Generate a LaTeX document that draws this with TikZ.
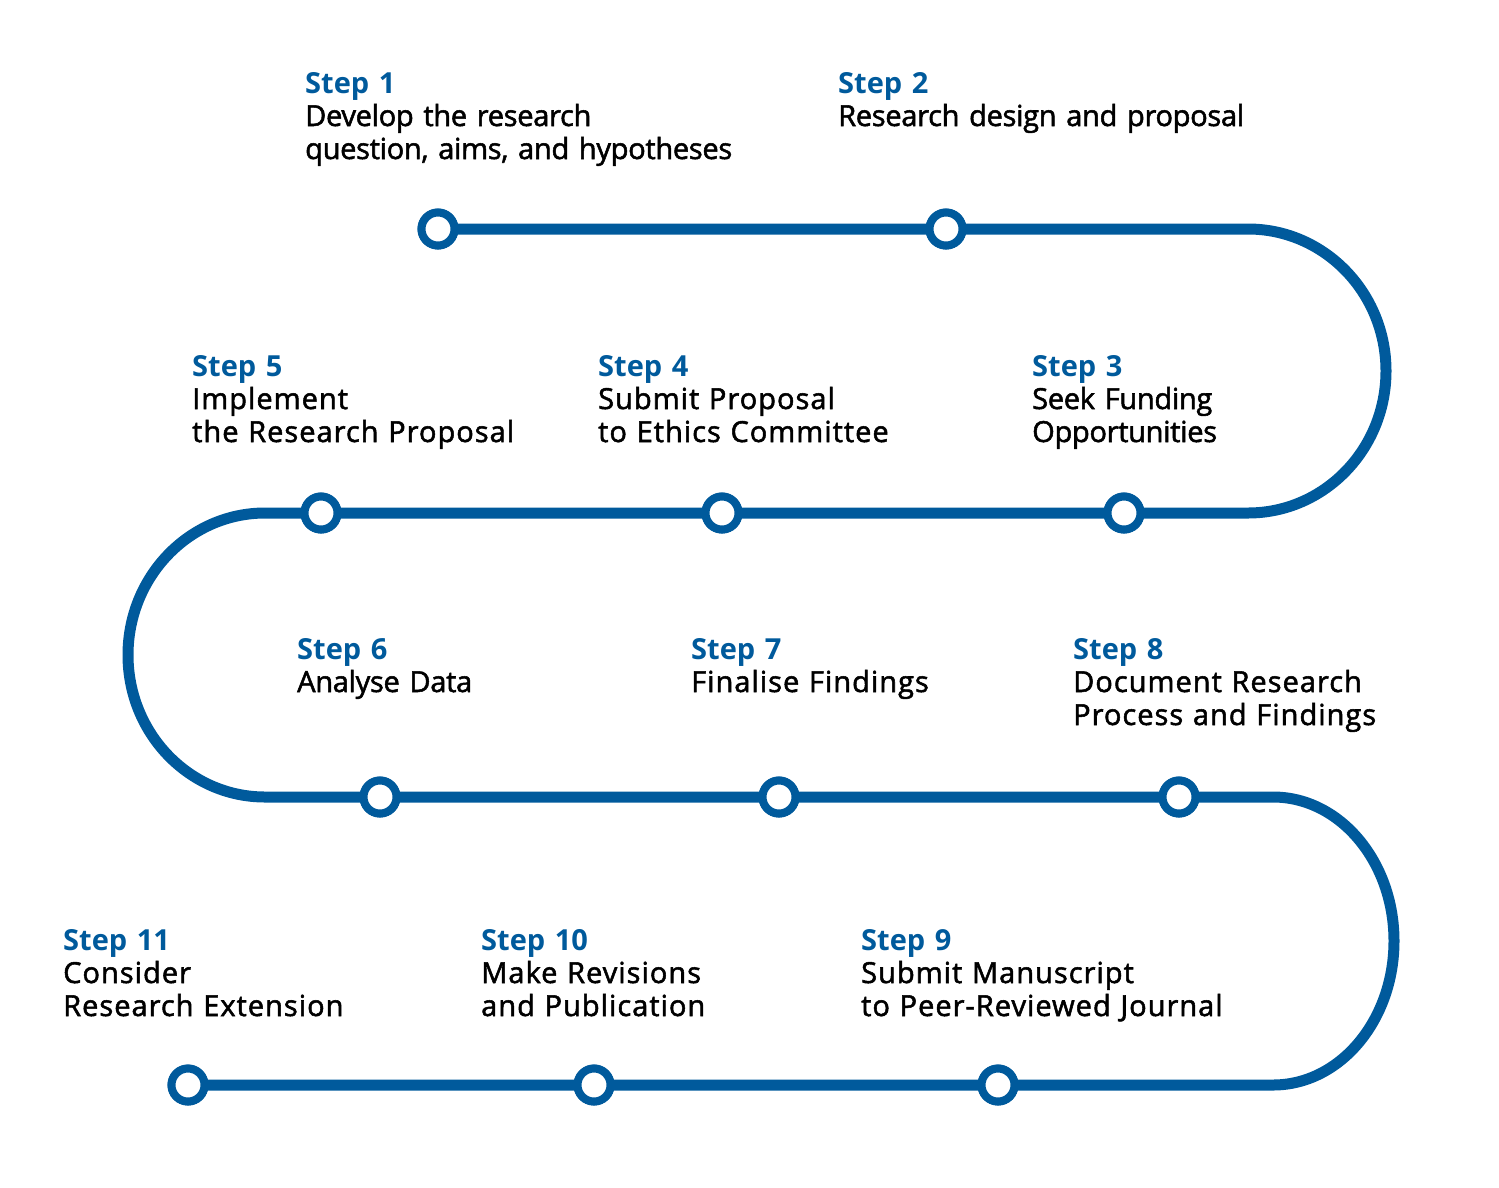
\documentclass[tikz,border=0pt]{standalone}
\usepackage{fontspec}
\setmainfont{Open Sans}
\newfontfamily\descfont{Open Sans}[FakeBold=1.8, LetterSpace=-1]
\newfontfamily\widedescfont{Open Sans}[FakeBold=1.8, LetterSpace=3.5]
\definecolor{trackblue}{HTML}{005A9C}
\tikzset{
  track/.style={draw=trackblue, line width=11pt},
  stop/.style={circle, draw=trackblue, fill=white, line width=8pt, minimum size=33pt, inner sep=0pt},
  steplabel/.style={anchor=base west, align=left, text width=460pt, inner sep=0pt, text=black,
    font=\fontsize{29}{33}\selectfont\descfont},
  widelabel/.style={steplabel, font=\fontsize{29}{33}\selectfont\widedescfont},
}
\newcommand{\stepname}[1]{{\normalfont\bfseries\color{trackblue}Step #1}}

\begin{document}
\begin{tikzpicture}[x=1pt, y=-1pt]
  \useasboundingbox (0,0) rectangle (1499,1187);

  % stops along the track
  \node[stop] (s1) at (438, 229) {};
  \node[stop] (s2) at (946, 229) {};
  \node[stop] (s3) at (1124, 513) {};
  \node[stop] (s4) at (722, 513) {};
  \node[stop] (s5) at (321, 513) {};
  \node[stop] (s6) at (380, 797) {};
  \node[stop] (s7) at (779, 797) {};
  \node[stop] (s8) at (1179, 797) {};
  \node[stop] (s9) at (998, 1085) {};
  \node[stop] (s10) at (594, 1085) {};
  \node[stop] (s11) at (188, 1085) {};

  % where the bends start
  \coordinate (t1) at (1248, 229);
  \coordinate (t2) at (265, 513);
  \coordinate (t3) at (1273, 797);

  \draw[track] (s1.center) -- (s2.center) -- (t1) arc (-90:90:138 and 142)
    -- (s3.center) -- (s4.center) -- (s5.center) -- (t2) arc (270:90:137 and 142)
    -- (s6.center) -- (s7.center) -- (s8.center) -- (t3) arc (-90:90:121 and 144)
    -- (s9.center) -- (s10.center) -- (s11.center);

  % redraw the stops on top of the track
  \foreach \s in {s1,s2,s3,s4,s5,s6,s7,s8,s9,s10,s11}
    \node[stop] at (\s) {};

  % labels
  \node[steplabel] (l1) at (305, 93) {\stepname{1}\\Develop the research\\question, aims, and hypotheses};
  \node[steplabel] (l2) at (838, 93) {\stepname{2}\\Research design and proposal};
  \node[steplabel] (l3) at (1032, 376) {\stepname{3}\\Seek Funding\\Opportunities};
  \node[widelabel] (l4) at (598, 376) {\stepname{4}\\Submit Proposal\\to Ethics Committee};
  \node[widelabel] (l5) at (192, 376) {\stepname{5}\\Implement\\the Research Proposal};
  \node[steplabel] (l6) at (297, 659) {\stepname{6}\\Analyse Data};
  \node[widelabel] (l7) at (691, 659) {\stepname{7}\\Finalise Findings};
  \node[widelabel] (l8) at (1073, 659) {\stepname{8}\\Document Research\\Process and Findings};
  \node[widelabel] (l9) at (861, 950) {\stepname{9}\\Submit Manuscript\\to Peer-Reviewed Journal};
  \node[widelabel] (l10) at (481, 950) {\stepname{10}\\Make Revisions\\and Publication};
  \node[widelabel] (l11) at (63, 950) {\stepname{11}\\Consider\\Research Extension};
\end{tikzpicture}
\end{document}
